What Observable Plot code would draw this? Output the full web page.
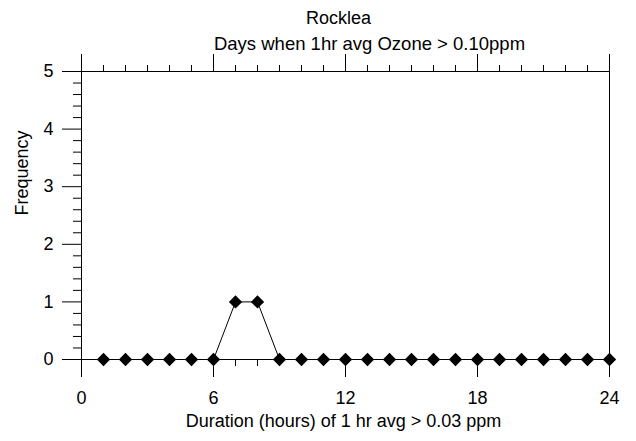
<!DOCTYPE html>
<html><head><meta charset="utf-8">
<script src="https://cdn.jsdelivr.net/npm/d3@7"></script>
<script src="https://cdn.jsdelivr.net/npm/@observablehq/plot@0.6"></script>
<style>body{margin:0;background:#fff} svg{display:block}</style>
</head><body><div id="chart"></div>
<script>
const hours = [1,2,3,4,5,6,7,8,9,10,11,12,13,14,15,16,17,18,19,20,21,22,23,24];
const frequency = [0,0,0,0,0,0,1,1,0,0,0,0,0,0,0,0,0,0,0,0,0,0,0,0];
const xMajorTicks = [0,6,12,18,24];
const yMajorTicks = [0,1,2,3,4,5];
const title = "Rocklea";
const subtitle = "Days when 1hr avg Ozone > 0.10ppm";
const xLabel = "Duration (hours) of 1 hr avg > 0.03 ppm";
const yLabel = "Frequency";

const data = hours.map((h, i) => ({h, f: frequency[i]}));
const xMinor = d3.range(1, 24);
const yMinor = d3.range(1, 25).filter(i => i % 5).map(i => i / 5);
const font = "'Liberation Sans', Arial, Helvetica, sans-serif";

const chart = Plot.plot({
  width: 636, height: 441,
  marginLeft: 81, marginRight: 27, marginTop: 71, marginBottom: 82,
  style: {fontFamily: font, fontSize: "18px", color: "black", background: "white", overflow: "visible"},
  x: {domain: [0, 24]},
  y: {domain: [0, 5]},
  marks: [
    Plot.frame({stroke: "black"}),
    Plot.axisX({anchor: "bottom", ticks: xMinor, tickSize: 7, fill: "none"}),
    Plot.axisX({anchor: "bottom", ticks: xMajorTicks, tickSize: 18, tickPadding: 14, tickFormat: "d", label: null, fontSize: 18}),
    Plot.axisX({anchor: "top", ticks: xMinor, tickSize: 7, fill: "none"}),
    Plot.axisX({anchor: "top", ticks: xMajorTicks, tickSize: 18, fill: "none"}),
    Plot.axisY({anchor: "left", ticks: yMinor, tickSize: 8, fill: "none"}),
    Plot.axisY({anchor: "left", ticks: yMajorTicks, tickSize: 19, tickPadding: 9, tickFormat: "d", label: null, fontSize: 18}),
    Plot.line(data, {x: "h", y: "f", stroke: "black", strokeWidth: 1}),
    Plot.dot(data, {x: "h", y: "f", symbol: "diamond2", r: 6, fill: "black", stroke: "none"}),
    Plot.text([title], {frameAnchor: "top", lineAnchor: "bottom", dx: -7, dy: -48, fontSize: 18, fill: "black"}),
    Plot.text([subtitle], {frameAnchor: "top", lineAnchor: "bottom", dx: 24, dy: -22, fontSize: 18.5, fill: "black"}),
    Plot.text([xLabel], {frameAnchor: "bottom", lineAnchor: "bottom", dx: -2, dy: 67, fontSize: 18, fill: "black"}),
    Plot.text([yLabel], {frameAnchor: "left", lineAnchor: "bottom", dx: -54, rotate: -90, fontSize: 18, fill: "black"})
  ]
});
document.getElementById("chart").appendChild(chart);
</script>
</body></html>
